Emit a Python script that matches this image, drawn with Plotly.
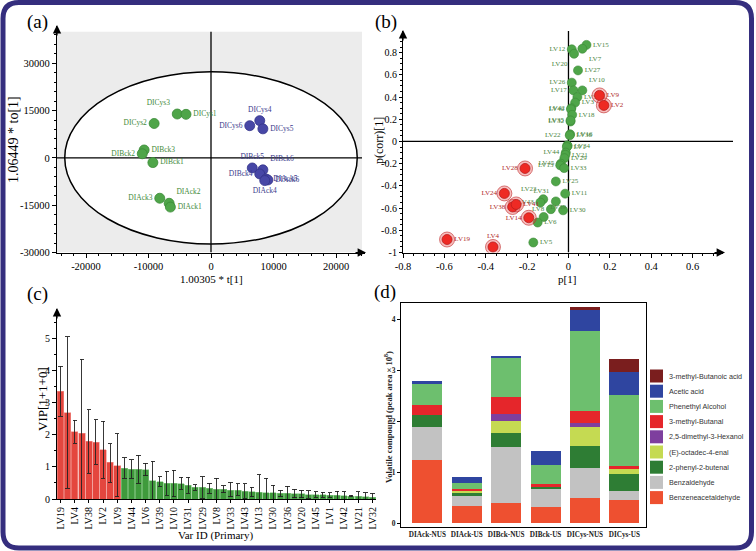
import plotly.graph_objects as go

W, H = 756, 551
def px(x): return x / W
def py(y): return 1 - y / H

SERIF = "Liberation Serif"
SANS = "Liberation Sans"

# ---------------- Panel (a): OPLS-DA score plot ----------------
a_green_names = ["DICys3", "DICys1", "DICys2", "DIBck3", "DIBck2", "DIBck1", "DIAck3", "DIAck2", "DIAck1"]
a_green_t = [-5400, -4000, -9100, -10700, -11000, -9300, -8200, -6700, -6500]
a_green_to = [13900, 13800, 10900, 2500, 1300, -1500, -12800, -14400, -15600]
a_blue_names = ["DICys4", "DICys6", "DICys5", "DIBck5", "DIBck6", "DIBck4", "DIAck5", "DIAck6", "DIAck4"]
a_blue_t = [7800, 6200, 8300, 6600, 8300, 7800, 8800, 9100, 8600]
a_blue_to = [11800, 10200, 9200, -3200, -3800, -5100, -6700, -7000, -7200]
a_xticks = [-20000, -10000, 0, 10000, 20000]
a_xticklabels = ["-20000", "-10000", "0", "10000", "20000"]
a_yticks = [-30000, -15000, 0, 15000, 30000]
a_yticklabels = ["-30000", "-15000", "0", "15000", "30000"]
a_ellipse_t = 23400
a_ellipse_to = 27300

# ---------------- Panel (b): S-plot ----------------
b_green_names = ["LV12", "LV20", "LV15", "LV7", "LV27", "LV26", "LV17", "LV10", "LV37", "LV3",
                 "LV42", "LV40", "LV18", "LV32", "LV35", "LV16", "LV36", "LV22", "LV34", "LV1",
                 "LV44", "LV21", "LV29", "LV45", "LV13", "LV33", "LV25", "LV11", "LV31", "LV23",
                 "LV43", "LV8", "LV30", "LV39", "LV6", "LV5"]
b_green_p = [0.016, 0.027, 0.087, 0.067, 0.046, 0.016, 0.024, 0.067, 0.043, 0.032,
             0.014, 0.012, 0.018, 0.010, 0.010, 0.008, 0.006, -0.006, -0.004, -0.008,
             -0.013, -0.015, -0.020, -0.037, -0.040, -0.021, -0.061, -0.016, -0.061, -0.122,
             -0.136, -0.085, -0.026, -0.120, -0.149, -0.170]
b_green_pcorr = [0.83, 0.79, 0.87, 0.835, 0.64, 0.53, 0.46, 0.46, 0.40, 0.35,
                 0.30, 0.29, 0.24, 0.18, 0.19, 0.065, 0.055, -0.035, -0.04, -0.05,
                 -0.10, -0.12, -0.15, -0.20, -0.215, -0.24, -0.36, -0.47, -0.54, -0.52,
                 -0.55, -0.61, -0.62, -0.68, -0.73, -0.91]
b_green_pos = ["middle left", "bottom left", "middle right", "bottom right", "middle right", "middle left",
               "middle left", "top right", "middle right", "middle right",
               "middle left", "middle left", "middle right", "middle left", "middle left", "middle right",
               "middle right", "top left", "middle right", "middle right",
               "middle left", "middle right", "middle right", "middle left", "middle left", "middle right",
               "middle right", "middle right", "top left", "top left",
               "middle left", "middle left", "middle right", "top right", "middle right", "middle right"]
b_red_names = ["LV9", "LV2", "LV28", "LV24", "LV38", "LV41", "LV14", "LV19", "LV4"]
b_red_p = [0.150, 0.171, -0.210, -0.310, -0.270, -0.253, -0.192, -0.587, -0.365]
b_red_pcorr = [0.415, 0.325, -0.243, -0.468, -0.590, -0.567, -0.687, -0.883, -0.950]
b_red_pos = ["middle right", "middle right", "middle left", "middle left", "middle left",
             "middle right", "middle left", "middle right", "top center"]
b_xticks = [-0.8, -0.6, -0.4, -0.2, 0, 0.2, 0.4, 0.6]
b_xticklabels = ["-0.8", "-0.6", "-0.4", "-0.2", "0", "0.2", "0.4", "0.6"]
b_yticks = [-1, -0.8, -0.6, -0.4, -0.2, 0, 0.2, 0.4, 0.6, 0.8]
b_yticklabels = ["-1", "-0.8", "-0.6", "-0.4", "-0.2", "0", "0.2", "0.4", "0.6", "0.8"]

# ---------------- Panel (c): VIP ----------------
c_names = ["LV19", "LV24", "LV4", "LV28", "LV38", "LV41", "LV2", "LV14", "LV9", "LV5",
           "LV44", "LV23", "LV6", "LV11", "LV39", "LV37", "LV10", "LV25", "LV31", "LV15",
           "LV29", "LV7", "LV8", "LV27", "LV33", "LV3", "LV43", "LV12", "LV13", "LV26",
           "LV30", "LV17", "LV36", "LV18", "LV20", "LV35", "LV45", "LV16", "LV1", "LV22",
           "LV42", "LV34", "LV21", "LV40", "LV32"]
c_vip = [3.36, 2.68, 2.09, 2.05, 1.80, 1.77, 1.53, 1.14, 1.04, 0.96,
         0.93, 0.93, 0.91, 0.57, 0.53, 0.49, 0.49, 0.48, 0.43, 0.37,
         0.37, 0.33, 0.31, 0.30, 0.28, 0.28, 0.24, 0.22, 0.21, 0.20,
         0.20, 0.18, 0.18, 0.17, 0.16, 0.14, 0.14, 0.13, 0.12, 0.12,
         0.10, 0.09, 0.08, 0.07, 0.06]
c_err_up = [0.78, 2.37, 0.36, 2.30, 0.98, 0.70, 0.90, 0.58, 0.99, 0.33,
            0.29, 0.44, 0.21, 0.60, 0.17, 0.37, 0.41, 0.20, 0.25, 0.07,
            0.33, 0.16, 0.34, 0.11, 0.24, 0.19, 0.24, 0.15, 0.55, 0.45,
            0.23, 0.09, 0.21, 0.13, 0.12, 0.12, 0.08, 0.08, 0.08, 0.12,
            0.12, 0.02, 0.15, 0.12, 0.12]
c_err_down = [0.78, 2.35, 0.35, 2.05, 1.00, 0.69, 0.88, 0.62, 0.97, 0.31,
              0.28, 0.44, 0.19, 0.57, 0.14, 0.37, 0.42, 0.17, 0.25, 0.09,
              0.35, 0.15, 0.31, 0.10, 0.21, 0.17, 0.22, 0.15, 0.21, 0.20,
              0.20, 0.09, 0.18, 0.13, 0.12, 0.12, 0.08, 0.08, 0.08, 0.12,
              0.10, 0.02, 0.08, 0.07, 0.06]
c_n_important = 9
c_yticks = [0, 1, 2, 3, 4, 5]

# ---------------- Panel (d): stacked volatile compounds ----------------
d_samples = ["DIAck-NUS", "DIAck-US", "DIBck-NUS", "DIBck-US", "DICys-NUS", "DICys-US"]
d_series = ["Benzeneacetaldehyde", "Benzaldehyde", "2-phenyl-2-butenal", "(E)-octadec-4-enal",
            "2,5-dimethyl-3-Hexanol", "3-methyl-Butanal", "Phenethyl Alcohol", "Acetic acid",
            "3-methyl-Butanoic acid"]
d_values = {
    "Benzeneacetaldehyde":    [1.24, 0.35, 0.40, 0.33, 0.49, 0.46],
    "Benzaldehyde":           [0.65, 0.19, 1.09, 0.35, 0.60, 0.17],
    "2-phenyl-2-butenal":     [0.23, 0.07, 0.29, 0.04, 0.42, 0.33],
    "(E)-octadec-4-enal":     [0.00, 0.02, 0.23, 0.00, 0.38, 0.10],
    "2,5-dimethyl-3-Hexanol": [0.00, 0.00, 0.14, 0.00, 0.08, 0.00],
    "3-methyl-Butanal":       [0.20, 0.04, 0.32, 0.05, 0.24, 0.07],
    "Phenethyl Alcohol":      [0.42, 0.13, 0.78, 0.38, 1.57, 1.39],
    "Acetic acid":            [0.05, 0.11, 0.04, 0.27, 0.41, 0.45],
    "3-methyl-Butanoic acid": [0.00, 0.00, 0.00, 0.00, 0.06, 0.26],
}
d_colors = ["#EE5030", "#C2C2C2", "#2E7D34", "#C5DA52", "#7E3F9E", "#E5262B",
            "#6DBF6E", "#2F45A0", "#7A1E1E"]
d_yticks = [0, 1, 2, 3, 4]

# ---------------- Figure ----------------
fig = go.Figure()

# (a)
fig.add_trace(go.Scatter(
    x=a_green_t, y=a_green_to, text=a_green_names, mode="markers+text", xaxis="x", yaxis="y",
    textposition=["top left", "middle right", "middle left", "middle right", "middle left",
                  "middle right", "middle left", "top right", "middle right"],
    marker=dict(size=10, color="#4FA549", line=dict(color="#3A8A36", width=0.8)),
    textfont=dict(family=SERIF, size=7.5, color="#3F8A3A"), showlegend=False, cliponaxis=False))
fig.add_trace(go.Scatter(
    x=a_blue_t, y=a_blue_to, text=a_blue_names, mode="markers+text", xaxis="x", yaxis="y",
    textposition=["top center", "middle left", "middle right", "top center", "top right",
                  "middle left", "middle right", "middle right", "bottom center"],
    marker=dict(size=10, color="#4747A6", line=dict(color="#33338A", width=0.8)),
    textfont=dict(family=SERIF, size=7.5, color="#3B3B8C"), showlegend=False, cliponaxis=False))

# (b)
fig.add_trace(go.Scatter(
    x=b_green_p, y=b_green_pcorr, text=b_green_names, mode="markers+text", xaxis="x2", yaxis="y2",
    textposition=b_green_pos,
    marker=dict(size=9, color="#4FA549", line=dict(color="#3A8A36", width=0.6)),
    textfont=dict(family=SERIF, size=7, color="#4A8540"), showlegend=False, cliponaxis=False))
fig.add_trace(go.Scatter(
    x=b_red_p, y=b_red_pcorr, mode="markers", xaxis="x2", yaxis="y2",
    marker=dict(size=15, color="rgba(230,70,70,0.35)", line=dict(color="rgba(190,40,40,0.6)", width=1)),
    showlegend=False, hoverinfo="skip"))
fig.add_trace(go.Scatter(
    x=b_red_p, y=b_red_pcorr, text=b_red_names, mode="markers+text", xaxis="x2", yaxis="y2",
    textposition=b_red_pos,
    marker=dict(size=10, color="#EE2A24", line=dict(color="#B81E1E", width=0.8)),
    textfont=dict(family=SERIF, size=7, color="#B02A2A"), showlegend=False, cliponaxis=False))

# (c)
c_colors = ["#E4463E" if i < c_n_important else "#3F9A3C" for i in range(len(c_names))]
c_lines = ["#F08F8A" if i < c_n_important else "#86C883" for i in range(len(c_names))]
fig.add_trace(go.Bar(
    x=c_names, y=c_vip, xaxis="x3", yaxis="y3", width=0.92,
    marker=dict(color=c_colors, line=dict(color=c_lines, width=0.6)),
    error_y=dict(type="data", symmetric=False, array=c_err_up, arrayminus=c_err_down,
                 color="#222222", thickness=0.9, width=2.2),
    showlegend=False))

# (d)
for name, col in zip(d_series, d_colors):
    fig.add_trace(go.Bar(
        x=d_samples, y=d_values[name], name=name, xaxis="x4", yaxis="y4", width=0.76,
        marker=dict(color=col, line=dict(width=0)), showlegend=False))

axis_common = dict(showgrid=False, zeroline=False, linecolor="black", tickcolor="black",
                   ticks="outside", automargin=False)
serif_tick = dict(family=SERIF, size=10.5, color="black")

fig.update_layout(
    width=W, height=H, margin=dict(l=0, r=0, t=0, b=0, autoexpand=False),
    paper_bgcolor="white", plot_bgcolor="rgba(0,0,0,0)",
    barmode="stack",
    xaxis=dict(domain=[px(57), px(365)], range=[-24640, 24640], anchor="y",
               showline=True, linewidth=1.2, ticklen=4, tickvals=a_xticks, ticktext=a_xticklabels,
               minor=dict(ticks="outside", ticklen=2, dtick=2000, tick0=0, tickcolor="black"),
               tickfont=serif_tick, **axis_common),
    yaxis=dict(domain=[py(252.5), py(26)], range=[-30000, 41800], anchor="x",
               showline=True, linewidth=1.2, ticklen=4, tickvals=a_yticks, ticktext=a_yticklabels,
               minor=dict(ticks="outside", ticklen=2, dtick=3000, tick0=0, tickcolor="black"),
               tickfont=serif_tick, **axis_common),
    xaxis2=dict(domain=[px(403), px(723)], range=[-0.8, 0.747], anchor="y2",
                showline=True, linewidth=1.2, ticklen=4, tickvals=b_xticks, ticktext=b_xticklabels,
                minor=dict(ticks="outside", ticklen=2, dtick=0.05, tick0=0, tickcolor="black"),
                tickfont=serif_tick, **axis_common),
    yaxis2=dict(domain=[py(252.5), py(31)], range=[-1, 0.995], anchor="x2",
                showline=True, linewidth=1.2, ticklen=3, tickvals=b_yticks, ticktext=b_yticklabels,
                minor=dict(ticks="outside", ticklen=2, dtick=0.05, tick0=0, tickcolor="black"),
                tickfont=dict(family=SERIF, size=10, color="black"), **axis_common),
    xaxis3=dict(domain=[px(57), px(376)], range=[-0.5, len(c_names) - 0.5], anchor="y3",
                type="category", categoryorder="array", categoryarray=c_names,
                showline=True, linewidth=1.2, ticklen=3, tickvals=c_names[::2], tickangle=-90,
                tickfont=dict(family=SERIF, size=10, color="black"), **axis_common),
    yaxis3=dict(domain=[py(499), py(309)], range=[0, 5.92], anchor="x3",
                showline=True, linewidth=1.2, ticklen=4, tickvals=c_yticks,
                minor=dict(ticks="outside", ticklen=2, dtick=0.5, tick0=0, tickcolor="black"),
                tickfont=dict(family=SERIF, size=10, color="black"), **axis_common),
    xaxis4=dict(domain=[px(401), px(646)], range=[-0.67, 5.55], anchor="y4",
                type="category", showline=True, mirror=True, linewidth=1.1, linecolor="black",
                showgrid=False, zeroline=False, ticks="", automargin=False,
                tickfont=dict(family=SERIF, size=7.2, color="#222222", weight="bold")),
    yaxis4=dict(domain=[py(527), py(303)], range=[-0.07, 4.32], anchor="x4",
                showline=True, mirror=True, linewidth=1.1, ticklen=3, tickvals=d_yticks,
                tickfont=dict(family=SERIF, size=7.5, color="#222222", weight="bold"),
                **axis_common),
)

shapes = []
# (a) gray background, ellipse, cross lines
shapes.append(dict(type="rect", xref="x", yref="y", x0=-24640, x1=24160, y0=-30000, y1=40000,
                   fillcolor="#ECECEC", line=dict(width=0), layer="below"))
shapes.append(dict(type="circle", xref="x", yref="y", x0=-a_ellipse_t, x1=a_ellipse_t,
                   y0=-a_ellipse_to, y1=a_ellipse_to, fillcolor="white",
                   line=dict(color="black", width=1.5), layer="below"))
shapes.append(dict(type="line", xref="x", yref="y", x0=0, x1=0, y0=-30000, y1=40000,
                   line=dict(color="black", width=1.3), layer="below"))
shapes.append(dict(type="line", xref="x", yref="y", x0=-24640, x1=24160, y0=0, y1=0,
                   line=dict(color="black", width=1.3), layer="below"))
# (b) cross lines
shapes.append(dict(type="line", xref="x2", yref="y2", x0=0, x1=0, y0=-1, y1=0.995,
                   line=dict(color="black", width=1.3), layer="below"))
shapes.append(dict(type="line", xref="paper", yref="y2", x0=px(403), x1=px(733), y0=0, y1=0,
                   line=dict(color="black", width=1.3), layer="below"))

# legend for (d) drawn manually
annotations = []
leg_top = 376.0
leg_step = 15.2
for i, (name, col) in enumerate(reversed(list(zip(d_series, d_colors)))):
    yc = leg_top + i * leg_step
    shapes.append(dict(type="rect", xref="paper", yref="paper", x0=px(650), x1=px(663),
                       y0=py(yc + 6.5), y1=py(yc - 6.5), fillcolor=col, line=dict(width=0)))
    annotations.append(dict(xref="paper", yref="paper", x=px(667), y=py(yc), text=name,
                            showarrow=False, xanchor="left", yanchor="middle",
                            font=dict(family=SANS, size=7.2, color="#333333")))

# outer rounded frame
x0, y0, x1, y1, r = 3, 2.5, 751.5, 548, 16
def P(x, y): return f"{px(x):.5f},{py(y):.5f}"
frame_path = (f"M {P(x0 + r, y0)} L {P(x1 - r, y0)} Q {P(x1, y0)} {P(x1, y0 + r)} "
              f"L {P(x1, y1 - r)} Q {P(x1, y1)} {P(x1 - r, y1)} "
              f"L {P(x0 + r, y1)} Q {P(x0, y1)} {P(x0, y1 - r)} "
              f"L {P(x0, y0 + r)} Q {P(x0, y0)} {P(x0 + r, y0)} Z")
shapes.append(dict(type="path", xref="paper", yref="paper", path=frame_path,
                   line=dict(color="#352E7E", width=5)))

def label(x, y, text, size, angle=0, family=SERIF, bold=False, color="black"):
    annotations.append(dict(xref="paper", yref="paper", x=px(x), y=py(y), text=text,
                            showarrow=False, textangle=angle, xanchor="center", yanchor="middle",
                            font=dict(family=family, size=size, color=color,
                                      weight="bold" if bold else "normal")))

label(37, 22, "(a)", 19)
label(386, 22, "(b)", 19)
label(37, 294, "(c)", 19)
label(385, 292, "(d)", 19)
label(211, 279, "1.00305 * t[1]", 11)
label(13, 140, "1.06449 * to[1]", 14, -90)
label(567, 279, "p[1]", 11)
label(379, 140, "p(corr)[1]", 12, -90)
label(42, 399, "VIP[1+1+0]", 13, -90)
label(215, 535, "Var ID (Primary)", 11)
label(388, 417, "Volatile compound (peak area × 10<sup>8</sup>)", 8.5, -90, bold=True, color="#222222")

def arrow(x, y, ax, ay):
    annotations.append(dict(xref="paper", yref="paper", x=px(x), y=py(y), text="",
                            showarrow=True, ax=ax, ay=ay, arrowhead=2, arrowsize=1.4,
                            arrowwidth=1.2, arrowcolor="black", standoff=0, startstandoff=0))

arrow(366, 252.5, -12, 0)
arrow(57, 25, 0, 12)
arrow(725, 252.5, -12, 0)
arrow(403, 30, 0, 12)
arrow(57, 308, 0, 12)

fig.update_layout(shapes=shapes, annotations=annotations)
fig.write_html("out.html", config={"displayModeBar": False},
               post_script="document.body.style.margin='0';document.body.style.padding='0';")
